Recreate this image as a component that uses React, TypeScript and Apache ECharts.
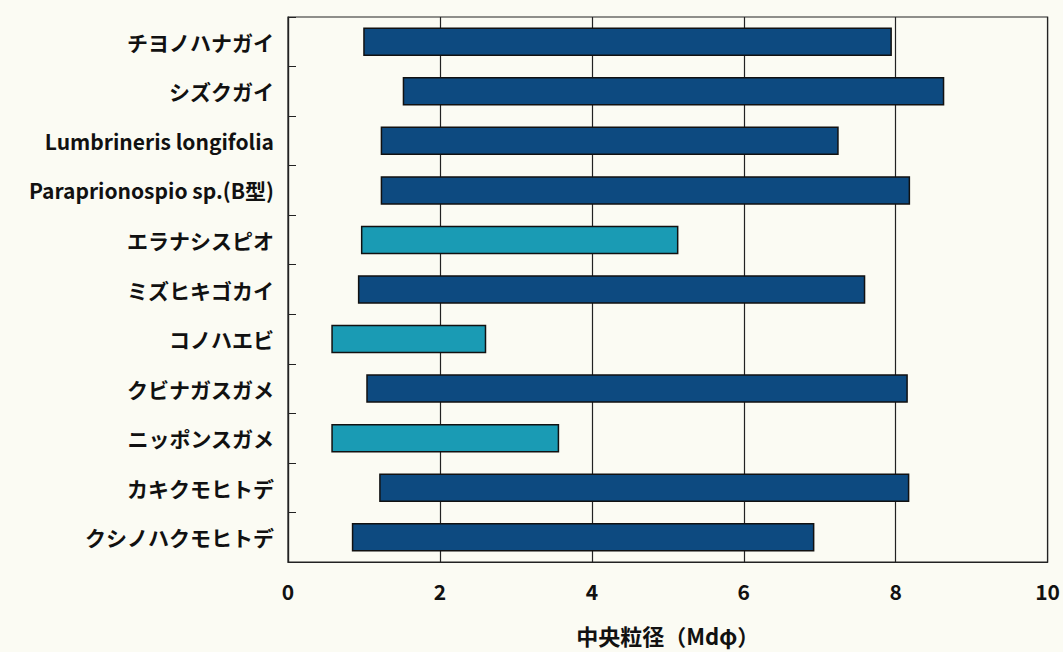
import React, { useEffect, useRef } from "react";
import * as echarts from "echarts";

const categories = [
  "チヨノハナガイ",
  "シズクガイ",
  "Lumbrineris longifolia",
  "Paraprionospio sp.(B型)",
  "エラナシスピオ",
  "ミズヒキゴカイ",
  "コノハエビ",
  "クビナガスガメ",
  "ニッポンスガメ",
  "カキクモヒトデ",
  "クシノハクモヒトデ",
];
const rangeStart = [1.0, 1.52, 1.23, 1.23, 0.97, 0.93, 0.58, 1.04, 0.58, 1.21, 0.85];
const rangeEnd = [7.94, 8.63, 7.24, 8.18, 5.13, 7.59, 2.6, 8.15, 3.56, 8.17, 6.92];
const groupType = [0, 0, 0, 0, 1, 0, 1, 0, 1, 0, 0];
const xTicks = [0, 2, 4, 6, 8, 10];

const COLORS = ["#0d4a80", "#1a9bb4"];
const FONT = "'Noto Sans CJK JP', 'Noto Sans', sans-serif";

export default function App() {
  const ref = useRef<HTMLDivElement>(null);
  useEffect(() => {
    if (!ref.current) return;
    const chart = echarts.init(ref.current, undefined, { renderer: "svg" });
    const data = categories.map((c, i) => [i, rangeStart[i], rangeEnd[i], groupType[i]]);
    chart.setOption({
      animation: false,
      backgroundColor: "#fbfbf3",
      grid: {
        left: 288,
        right: 12,
        top: 17,
        bottom: 90,
        show: true,
        borderColor: "#222",
        borderWidth: 1.2,
        backgroundColor: "transparent",
      },
      xAxis: {
        type: "value",
        min: xTicks[0],
        max: xTicks[xTicks.length - 1],
        interval: 2,
        axisLine: { show: true, lineStyle: { color: "#222", width: 1.2 } },
        axisTick: { show: false },
        splitLine: { show: true, lineStyle: { color: "#222", width: 1.2 } },
        axisLabel: {
          margin: 18,
          fontSize: 21,
          fontWeight: "bold",
          color: "#111",
          fontFamily: FONT,
        },
        name: "中央粒径（Mdφ）",
        nameLocation: "middle",
        nameGap: 62,
        nameTextStyle: {
          fontSize: 22,
          fontWeight: "bold",
          color: "#111",
          fontFamily: FONT,
        },
      },
      yAxis: {
        type: "category",
        data: categories,
        inverse: true,
        axisLine: { show: true, lineStyle: { color: "#222", width: 1.2 } },
        axisTick: { show: true, inside: true, length: 8, lineStyle: { color: "#222" } },
        axisLabel: {
          margin: 14,
          fontSize: 21,
          fontWeight: "bold",
          color: "#111",
          fontFamily: FONT,
        },
      },
      series: [
        {
          type: "custom",
          encode: { x: [1, 2], y: 0 },
          data,
          renderItem: (params: any, api: any) => {
            const yi = api.value(0);
            const s = api.coord([api.value(1), yi]);
            const e = api.coord([api.value(2), yi]);
            const h = 27;
            const type = api.value(3);
            return {
              type: "rect",
              shape: { x: s[0], y: s[1] - h / 2, width: e[0] - s[0], height: h },
              style: { fill: COLORS[type], stroke: "#111", lineWidth: 1.5 },
            };
          },
        },
      ],
    });
    return () => chart.dispose();
  }, []);
  return (
    <div
      ref={ref}
      style={{ position: "fixed", left: 0, top: 0, width: 1063, height: 652 }}
    />
  );
}
